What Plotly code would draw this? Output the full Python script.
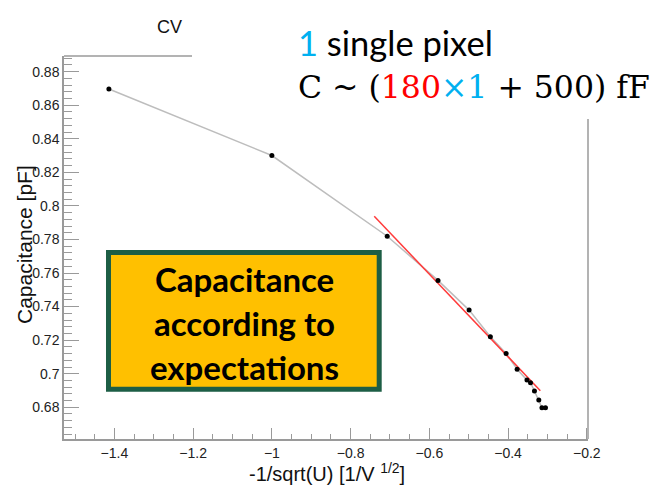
import plotly.graph_objects as go

# Data
x_vals = [-1.414, -1.0, -0.707, -0.578, -0.499, -0.445, -0.405, -0.377, -0.352, -0.343, -0.333, -0.322, -0.314, -0.305]
y_vals = [0.8696, 0.830, 0.7819, 0.7556, 0.7379, 0.7220, 0.7121, 0.7026, 0.6962, 0.6946, 0.6897, 0.6843, 0.6797, 0.6797]
fit_x = [-0.740, -0.318]
fit_y = [0.7938, 0.6899]

x_range = [-1.528, -0.197]
y_range = [0.6611, 0.8893]

# page is 661x485; the plot div sits at an 8px body offset
PAGE_W, PAGE_H, OFF = 661, 485, 8
W, H = PAGE_W - OFF, PAGE_H - OFF
L, R, T, B = 64, 588, 56, 439   # plot area in page pixels


def xp(px):
    return (px - L) / (R - L)


def yp(py):
    return (B - py) / (B - T)


fig = go.Figure()
fig.add_trace(go.Scatter(x=x_vals, y=y_vals, mode="lines",
                         line=dict(color="#bdbdbd", width=1.5), hoverinfo="skip"))
fig.add_trace(go.Scatter(x=fit_x, y=fit_y, mode="lines",
                         line=dict(color="#ff3b3b", width=1.5), hoverinfo="skip"))
fig.add_trace(go.Scatter(x=x_vals, y=y_vals, mode="markers",
                         marker=dict(color="black", size=5), hoverinfo="skip"))

axis_font = dict(family="Liberation Sans, Arial, sans-serif", size=14, color="#222")

fig.update_layout(
    width=W, height=H, autosize=False,
    margin=dict(l=L - OFF, r=PAGE_W - R, t=T - OFF, b=PAGE_H - B, pad=0),
    paper_bgcolor="white", plot_bgcolor="white",
    showlegend=False,
    xaxis=dict(range=x_range, showgrid=False, zeroline=False, automargin=False,
               showline=True, linecolor="#9a9a9a", linewidth=1.5,
               ticks="inside", ticklen=11, tickcolor="#9a9a9a", tickwidth=1,
               dtick=0.2, tick0=0,
               minor=dict(dtick=0.05, ticks="inside", ticklen=5, tickcolor="#9a9a9a", tickwidth=1),
               tickfont=axis_font),
    yaxis=dict(range=y_range, showgrid=False, zeroline=False, automargin=False,
               showline=True, linecolor="#9a9a9a", linewidth=1.5,
               ticks="inside", ticklen=15, tickcolor="#9a9a9a", tickwidth=1,
               dtick=0.02, tick0=0,
               minor=dict(dtick=0.004, ticks="inside", ticklen=8, tickcolor="#9a9a9a", tickwidth=1),
               tickfont=axis_font),
)

shapes = [
    # partial top frame
    dict(type="line", xref="paper", yref="paper", x0=0, x1=xp(192), y0=1, y1=1,
         line=dict(color="#9a9a9a", width=1.5)),
    # partial right frame
    dict(type="line", xref="paper", yref="paper", x0=1, x1=1, y0=0, y1=yp(119),
         line=dict(color="#9a9a9a", width=1.5)),
    # yellow box
    dict(type="rect", xref="paper", yref="paper",
         x0=xp(108.5), x1=xp(379.2), y0=yp(389.2), y1=yp(252.5),
         fillcolor="#FFC000", line=dict(color="#1d5e45", width=5), layer="above"),
]
fig.update_layout(shapes=shapes)

ann = []
# title fragment
ann.append(dict(xref="paper", yref="paper", x=xp(155), y=yp(27), xanchor="left", yanchor="middle",
                text="CV", showarrow=False,
                font=dict(family="Liberation Sans, Arial, sans-serif", size=18, color="#111")))
# axis titles
ann.append(dict(xref="paper", yref="paper", x=xp(327), y=yp(472), xanchor="center", yanchor="middle",
                text="-1/sqrt(U) [1/V <sup>1/2</sup>]", showarrow=False,
                font=dict(family="Liberation Sans, Arial, sans-serif", size=20, color="#111")))
ann.append(dict(xref="paper", yref="paper", x=xp(24), y=yp(245), xanchor="center", yanchor="middle",
                text="Capacitance [pF]", showarrow=False, textangle=-90,
                font=dict(family="Liberation Sans, Arial, sans-serif", size=21, color="#111")))
# top right texts
ann.append(dict(xref="paper", yref="paper", x=xp(296), y=yp(42), xanchor="left", yanchor="middle",
                text="<span style='color:#00B0F0'>1</span> single pixel", showarrow=False,
                font=dict(family="Lato, sans-serif", size=34.5, color="black")))
ann.append(dict(xref="paper", yref="paper", x=xp(296), y=yp(87), xanchor="left", yanchor="middle",
                text="C ~ (<span style='color:#FF0000'>180</span><span style='color:#00B0F0'>×1</span> + 500) fF",
                showarrow=False,
                font=dict(family="DejaVu Serif, serif", size=31.5, color="black")))
# yellow box text
box_font = dict(family="Lato, sans-serif", size=33, color="black")
for txt, py in [("Capacitance", 279), ("according to", 323), ("expectations", 367)]:
    ann.append(dict(xref="paper", yref="paper", x=xp(244), y=yp(py), xanchor="center", yanchor="middle",
                    text="<b>" + txt + "</b>", showarrow=False, font=box_font))
fig.update_layout(annotations=ann)

fig.write_html("out.html")
